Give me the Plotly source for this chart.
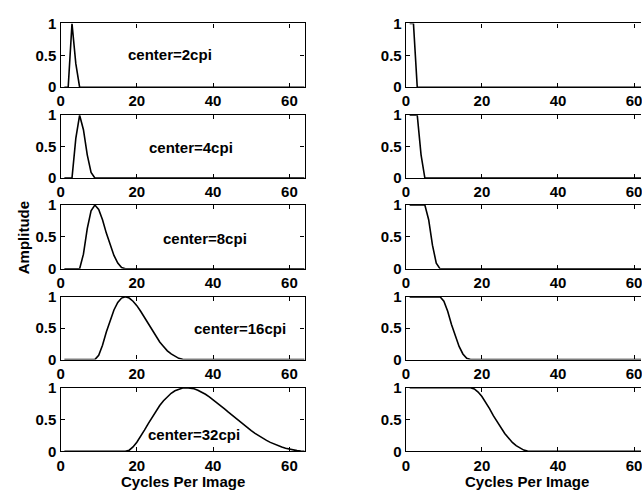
import plotly.graph_objects as go

# ---------------- data ----------------
freq = list(range(1, 65))                      # cycles per image (plot positions)
center_labels = ["center=2cpi", "center=4cpi", "center=8cpi", "center=16cpi", "center=32cpi"]

# band-pass (left column): first x where the band starts, then its values
band_start = [2, 3, 5, 9, 17]
band_vals = [
    [0, 1, 0.37, 0],
    [0, 0.63, 1, 0.77, 0.37, 0.09, 0],
    [0, 0.23, 0.63, 0.91, 1, 0.93, 0.77, 0.56, 0.37, 0.21, 0.09, 0.02, 0],
    [0, 0.07, 0.23, 0.44, 0.63, 0.79, 0.91, 0.98, 1, 0.98, 0.93, 0.86, 0.77,
     0.67, 0.56, 0.46, 0.37, 0.28, 0.21, 0.14, 0.09, 0.05, 0.02, 0.005, 0],
    [0, 0.018, 0.069, 0.144, 0.234, 0.334, 0.436, 0.537, 0.632, 0.719, 0.794,
     0.859, 0.911, 0.951, 0.979, 0.995, 1, 0.995, 0.981, 0.959, 0.931, 0.896,
     0.856, 0.812, 0.765, 0.716, 0.666, 0.615, 0.564, 0.513, 0.462, 0.415,
     0.368, 0.324, 0.281, 0.242, 0.206, 0.172, 0.141, 0.113, 0.089, 0.067,
     0.050, 0.034, 0.021, 0.012, 0.005, 0.001],
]

# low-pass (right column): 1 before the start, then these values, then 0
low_start = [2, 3, 5, 9, 17]
low_vals = [
    [1, 0],
    [1, 0.37, 0],
    [1, 0.77, 0.37, 0.09, 0],
    [1, 0.93, 0.77, 0.56, 0.37, 0.21, 0.09, 0.02, 0],
    [1, 0.98, 0.93, 0.86, 0.77, 0.67, 0.56, 0.46, 0.37, 0.28, 0.21, 0.14,
     0.09, 0.05, 0.02, 0.005, 0],
]

x_ticks = [0, 20, 40, 60]
y_ticks = [0, 0.5, 1]
y_ticktext = ["0", "0.5", "1"]
x_title = "Cycles Per Image"
y_title = "Amplitude"

# annotation positions in data units of each left panel
label_pos = [(28.8, 0.51), (34.2, 0.48), (37.8, 0.48), (47.0, 0.49), (35.0, 0.26)]

# ---------------- layout geometry ----------------
W, H = 642, 498
rows_px = [(15, 81), (110, 175), (203, 269), (298, 363), (392, 458)]
left_px = (57, 303)
right_px = (405, 642)
px_per_unit = (287 - 57) / 60.0
right_range_max = (right_px[1] - right_px[0]) / px_per_unit

FONT = dict(family="Liberation Sans, Arial, Helvetica", size=15, color="black", weight="bold")

fig = go.Figure()
layout = dict(
    width=W, height=H, margin=dict(l=0, r=0, t=0, b=0),
    paper_bgcolor="white", plot_bgcolor="white", showlegend=False,
    font=FONT,
)

def full_band(start, vals):
    y = [0.0] * (start - 1) + list(vals)
    y += [0.0] * (len(freq) - len(y))
    return y[:len(freq)]

def full_low(start, vals):
    y = [1.0] * (start - 1) + list(vals)
    y += [0.0] * (len(freq) - len(y))
    return y[:len(freq)]

annotations = []
for i in range(5):
    top, bot = rows_px[i]
    ydom = [1 - bot / H, 1 - top / H]
    for col in range(2):
        k = i + 1 + 5 * col
        xs = "" if k == 1 else str(k)
        if col == 0:
            xdom = [left_px[0] / W, left_px[1] / W]
            xr = [0, 64]
            ydata = full_band(band_start[i], band_vals[i])
            ymirror = "ticks"
        else:
            xdom = [right_px[0] / W, 1.0]
            xr = [0, right_range_max]
            ydata = full_low(low_start[i], low_vals[i])
            ymirror = False
        fig.add_trace(go.Scatter(
            x=freq, y=ydata, mode="lines",
            line=dict(color="black", width=1.6),
            xaxis="x" + xs, yaxis="y" + xs, hoverinfo="skip",
        ))
        layout["xaxis" + xs] = dict(
            domain=xdom, range=xr, anchor="y" + xs,
            tickvals=x_ticks, ticks="inside", ticklen=4, tickwidth=1,
            tickcolor="black", showline=True, linecolor="black", linewidth=1.3,
            mirror="ticks", showgrid=False, zeroline=False,
            tickfont=FONT, ticklabeloverflow="allow",
        )
        layout["yaxis" + xs] = dict(
            domain=ydom, range=[0, 1], anchor="x" + xs,
            tickvals=y_ticks, ticktext=y_ticktext, ticks="inside", ticklen=4,
            tickwidth=1, tickcolor="black", showline=True, linecolor="black",
            linewidth=1.3, mirror=ymirror, showgrid=False, zeroline=False,
            tickfont=FONT,
        )
    lx, ly = label_pos[i]
    xs = "" if i == 0 else str(i + 1)
    annotations.append(dict(
        text=center_labels[i], x=lx, y=ly, xref="x" + xs, yref="y" + xs,
        showarrow=False, xanchor="center", yanchor="middle", font=FONT,
    ))

annotations.append(dict(text=x_title, x=180 / W, y=1 - 489 / H, xref="paper", yref="paper",
                        showarrow=False, xanchor="center", yanchor="middle", font=FONT))
annotations.append(dict(text=x_title, x=527 / W, y=1 - 489 / H, xref="paper", yref="paper",
                        showarrow=False, xanchor="center", yanchor="middle", font=FONT))
annotations.append(dict(text=y_title, x=20 / W, y=1 - 236.5 / H, xref="paper", yref="paper",
                        showarrow=False, textangle=-90, xanchor="center", yanchor="middle",
                        font=FONT))
layout["annotations"] = annotations

fig.update_layout(**layout)
fig.write_html("out.html")
